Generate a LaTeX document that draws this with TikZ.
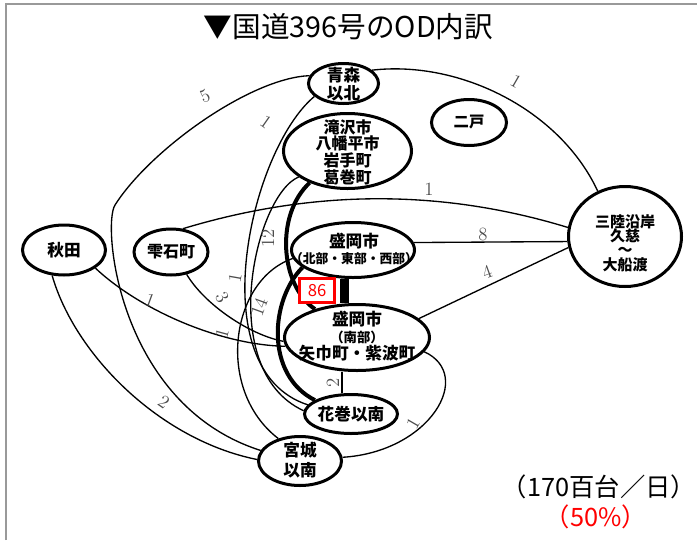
\documentclass[tikz,border=0pt]{standalone}
\usepackage{fontspec}
\newfontfamily\jp{Noto Sans CJK JP}
\usetikzlibrary{shapes.geometric}
\pgfdeclarelayer{bg}
\pgfsetlayers{bg,main}
\tikzset{
  place/.style={ellipse, draw=black, line width=2.25pt, fill=white, inner sep=0pt},
  ptxt/.style={align=center, inner sep=0pt, font=\jp\bfseries\fontsize{12.5}{13.5}\selectfont},
  conn/.style={line width=1pt, draw=black},
  heavy/.style={line width=3pt, draw=black},
  num/.style={inner sep=0pt, text=black!70, font=\fontsize{14}{14}\selectfont},
  frame/.style={draw=black!40, line width=1.2pt},
}
\begin{document}
\begin{tikzpicture}[x=0.75pt,y=-0.75pt]
\useasboundingbox (0,0) rectangle (697,540);
\draw[frame] (6,540) -- (6,4) -- (697,4);

% title and totals
\node[inner sep=0pt, font=\jp\fontsize{21.5}{22}\selectfont] (title) at (348.5,27) {▼国道396号のOD内訳};
\node[inner sep=0pt, font=\jp\fontsize{19}{20}\selectfont] (total) at (599,487) {（170百台／日）};
\node[inner sep=0pt, text=red, font=\jp\fontsize{19}{20}\selectfont] (share) at (596,517) {（50\%）};

% places
\node[place, minimum width=52.5pt, minimum height=30pt] (aomori) at (343.5,83.5) {};
\node[ptxt, font=\jp\bfseries\fontsize{12.5}{13.75}\selectfont] (aomoriT) at (343.5,84) {青森\\以北};
\node[place, minimum width=96pt, minimum height=56.25pt] (takizawa) at (347.5,151) {};
\node[ptxt, font=\jp\bfseries\fontsize{12}{12.5}\selectfont] (takizawaT) at (347.5,152) {滝沢市\\八幡平市\\岩手町\\葛巻町};
\node[place, minimum width=56.25pt, minimum height=34.5pt] (ninohe) at (469,122.5) {};
\node[ptxt, font=\jp\bfseries\fontsize{11.5}{12}\selectfont] (ninoheT) at (469,122.5) {二戸};
\node[place, minimum width=92.25pt, minimum height=41.25pt] (hokubu) at (353,250) {};
\node[ptxt] (hokubuT) at (354,249) {盛岡市\\[-1pt]{\fontsize{9.6}{11}\selectfont （北部・東部・西部）}};
\node[place, minimum width=108.75pt, minimum height=49.5pt] (nanbu) at (357,337.5) {};
\node[ptxt] (nanbuT) at (357,336) {盛岡市\\[-1pt]{\fontsize{10}{11}\selectfont （南部）}\\[-1pt]矢巾町・紫波町};
\node[place, minimum width=69.75pt, minimum height=29.25pt] (hanamaki) at (351,414) {};
\node[ptxt] (hanamakiT) at (351,414) {花巻以南};
\node[place, minimum width=62.25pt, minimum height=36.75pt] (miyagi) at (300,461) {};
\node[ptxt, font=\jp\bfseries\fontsize{12.5}{15}\selectfont] (miyagiT) at (300,460.5) {宮城\\以南};
\node[place, minimum width=62.25pt, minimum height=37.5pt] (akita) at (64,250) {};
\node[ptxt] (akitaT) at (64,250) {秋田};
\node[place, minimum width=55.5pt, minimum height=34.5pt] (shizuku) at (171,252) {};
\node[ptxt, font=\jp\bfseries\fontsize{12}{13}\selectfont] (shizukuT) at (171,252) {雫石町};
\node[place, minimum width=84.75pt, minimum height=75pt] (sanriku) at (625,236.5) {};
\node[ptxt, font=\jp\bfseries\fontsize{11.25}{10.75}\selectfont] (sanrikuT) at (625,243) {三陸沿岸\\久慈\\〜\\大船渡};

% 86 box
\node[draw=red, line width=2.2pt, fill=white, minimum width=26.25pt, minimum height=18pt, inner sep=0pt, text=red, font=\jp\fontsize{12.5}{13}\selectfont] (box) at (317,290.5) {86};

\begin{pgfonlayer}{bg}
% thin connectors
\draw[conn] (aomori.25) .. controls (460,60) and (560,110) .. (sanriku.121);
\draw[conn] (aomori.167) .. controls (250,78) and (150,150) .. (115,205) .. controls (102,225) and (118,405) .. (miyagi.165);
\draw[conn] (aomori.204) .. controls (250,150) and (200,370) .. (hanamaki.168);
\draw[conn] (takizawa.208) .. controls (255,195) and (215,370) .. (hanamaki.176);
\draw[conn] (hokubu.188) .. controls (230,280) and (215,390) .. (miyagi.134);
\draw[conn] (akita.245) .. controls (75,355) and (160,440) .. (miyagi.178);
\draw[conn] (akita.330) .. controls (140,310) and (220,345) .. (nanbu.187);
\draw[conn] (shizuku.305) .. controls (205,305) and (250,335) .. (nanbu.183);
\draw[conn] (shizuku.63) .. controls (314,189) and (442,189) .. (sanriku.171);
\draw[conn] (hokubu.7) -- (sanriku.185);
\draw[conn] (nanbu.17) -- (sanriku.191);
\draw[conn] ([xshift=-11.25pt]nanbu.south) -- ([xshift=-11.25pt]nanbu.south |- hanamaki.north);
\draw[conn] (miyagi.5) .. controls (430,452) and (475,375) .. (nanbu.348);
% heavy connectors
\draw[heavy] (takizawa.220) .. controls (275,215) and (280,285) .. (nanbu.146);
\draw[heavy] (hokubu.199) .. controls (270,300) and (265,375) .. (hanamaki.159);
\draw[line width=6.75pt] ([xshift=-6.75pt]hokubu.south) -- ([xshift=-6.75pt]hokubu.south |- nanbu.north);
\end{pgfonlayer}

% numbers
\node[num, rotate=-30] (nAS) at (516,81) {1};
\node[num, rotate=25] (nAM) at (205,96) {5};
\node[num, rotate=-35] (nAH) at (266,122) {1};
\node[num, rotate=90] (nTN) at (268,238) {12};
\node[num, rotate=80] (nTH) at (235,278) {1};
\node[num, rotate=70] (nHH) at (259,307) {14};
\node[num, rotate=-60] (nSN) at (222,297) {3};
\node[num, rotate=75] (nHM) at (222,333) {1};
\node[num, rotate=-20] (nAkN) at (150,300) {1};
\node[num, rotate=-35] (nAkM) at (164,402) {2};
\node[num, rotate=90] (nNH) at (333,383) {2};
\node[num, rotate=60] (nMN) at (413,423) {1};
\node[num] (nSS) at (429,189) {1};
\node[num] (nHS) at (483,234) {8};
\node[num, rotate=20] (nNS) at (487,272) {4};
\end{tikzpicture}
\end{document}
